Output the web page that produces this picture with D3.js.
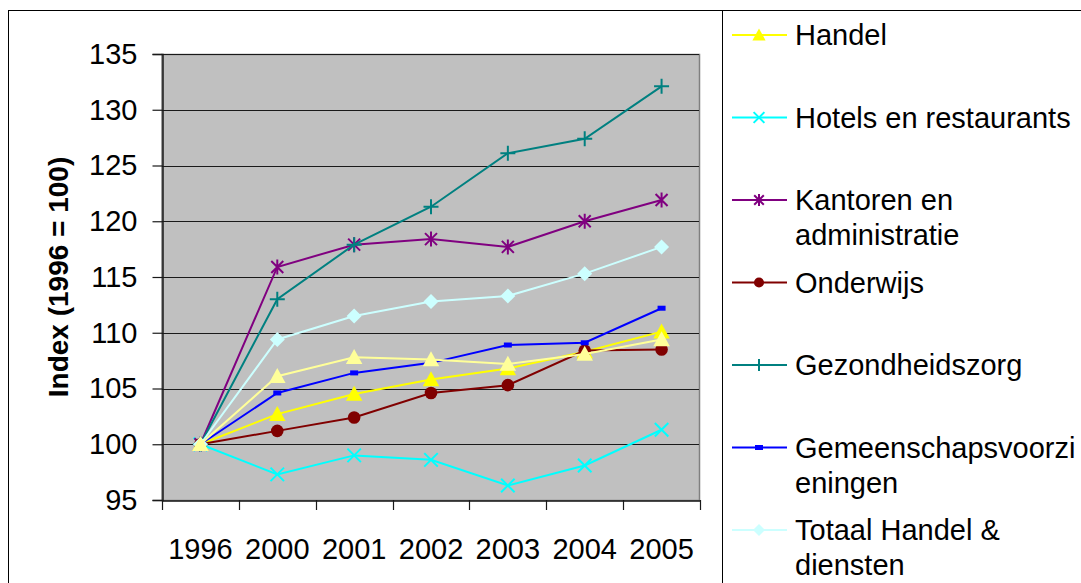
<!DOCTYPE html>
<html>
<head>
<meta charset="utf-8">
<script src="https://cdn.jsdelivr.net/npm/d3@7"></script>
<style>
  body { margin: 0; background: #fff; }
  svg { display: block; font-family: "Liberation Sans", Arial, sans-serif; }
</style>
</head>
<body>
<svg id="chart" width="1081" height="583"></svg>
<script>
var years = ["1996", "2000", "2001", "2002", "2003", "2004", "2005"];
var yTicks = [95, 100, 105, 110, 115, 120, 125, 130, 135];

var handel = [100, 102.7, 104.5, 105.8, 106.8, 108.3, 110.1];
var hotels = [100, 97.3, 99.0, 98.6, 96.3, 98.1, 101.3];
var kantoren = [100, 115.9, 117.9, 118.4, 117.7, 120.0, 121.9];
var onderwijs = [100, 101.2, 102.4, 104.6, 105.3, 108.4, 108.5];
var gezondheid = [100, 113.0, 117.9, 121.3, 126.1, 127.4, 132.1];
var gemeenschap = [100, 104.6, 106.4, 107.3, 108.9, 109.1, 112.2];
var totaal = [100, 109.4, 111.5, 112.8, 113.3, 115.3, 117.7];
var totaalDiensten = [100, 106.1, 107.8, 107.6, 107.2, 108.1, 109.4];

var seriesNames = [
  ["Handel"],
  ["Hotels en restaurants"],
  ["Kantoren en", "administratie"],
  ["Onderwijs"],
  ["Gezondheidszorg"],
  ["Gemeenschapsvoorzi", "eningen"],
  ["Totaal Handel &", "diensten"],
  ["Totaal diensten"]
];
var seriesValues = [handel, hotels, kantoren, onderwijs, gezondheid, gemeenschap, totaal, totaalDiensten];
var seriesColors = ["#ffff00", "#00ffff", "#800080", "#800000", "#008080", "#0000ff", "#ccffff", "#ffff99"];
var seriesMarkers = ["triangle", "cross", "star", "circle", "plus", "dash", "diamond", "triangle"];

var svg = d3.select("#chart");
var plotLeft = 162, plotRight = 700, plotTop = 54, plotBottom = 500;
var fontSize = 29;

var x = d3.scaleBand().domain(years).range([plotLeft, plotRight]).padding(0);
var y = d3.scaleLinear().domain([95, 135]).range([plotBottom, plotTop]);

// outer frame and legend frame
svg.append("rect").attr("x", 8.5).attr("y", 10.5).attr("width", 1100).attr("height", 600)
  .attr("fill", "none").attr("stroke", "#000");
svg.append("rect").attr("x", 722.5).attr("y", 10.5).attr("width", 400).attr("height", 600)
  .attr("fill", "none").attr("stroke", "#000");

// plot area
svg.append("rect").attr("x", plotLeft).attr("y", plotTop + 0.5).attr("width", plotRight - plotLeft - 0.5).attr("height", plotBottom - plotTop)
  .attr("fill", "#c0c0c0").attr("stroke", "#808080").attr("stroke-width", 1.5);

svg.append("g").selectAll("line").data(yTicks.slice(1)).enter().append("line")
  .attr("x1", plotLeft).attr("x2", plotRight - 1)
  .attr("y1", function(d) { return Math.round(y(d)) + 0.5; })
  .attr("y2", function(d) { return Math.round(y(d)) + 0.5; })
  .attr("stroke", "#1a1a1a").attr("stroke-width", 1.2);

// axes
var yAxis = d3.axisLeft(y).tickValues(yTicks).tickSize(10).tickPadding(14);
var gy = svg.append("g").attr("transform", "translate(" + (plotLeft + 0.5) + ",0)").call(yAxis);
gy.select(".domain").attr("stroke", "#1a1a1a").attr("stroke-width", 1.5);
gy.selectAll(".tick line").attr("stroke", "#1a1a1a").attr("stroke-width", 1.2);
gy.selectAll(".tick text").attr("font-size", fontSize).attr("font-family", "Liberation Sans, Arial").attr("fill", "#000")
  .attr("dx", "-1");

var xAxis = d3.axisBottom(x).tickSize(0).tickPadding(38);
var gx = svg.append("g").attr("transform", "translate(0," + (plotBottom + 0.5) + ")").call(xAxis);
gx.select(".domain").attr("stroke", "#1a1a1a").attr("stroke-width", 1.5);
gx.selectAll(".tick text").attr("font-size", fontSize).attr("font-family", "Liberation Sans, Arial").attr("fill", "#000");

var bounds = years.map(function(d) { return x(d); }).concat([plotRight]);
svg.append("g").selectAll("line").data(bounds).enter().append("line")
  .attr("x1", function(d) { return Math.round(d) + 0.5; })
  .attr("x2", function(d) { return Math.round(d) + 0.5; })
  .attr("y1", plotBottom).attr("y2", plotBottom + 10)
  .attr("stroke", "#1a1a1a").attr("stroke-width", 1.2);

svg.append("text")
  .attr("transform", "translate(68," + ((plotTop + plotBottom) / 2) + ") rotate(-90)")
  .attr("text-anchor", "middle")
  .attr("font-size", 28).attr("font-weight", "bold")
  .text("Index (1996 = 100)");

function drawMarker(g, type, color, s) {
  if (type == "triangle") {
    g.append("path").attr("d", "M0," + (-s * 0.55) + "L" + (s * 0.55) + "," + (s * 0.45) + "L" + (-s * 0.55) + "," + (s * 0.45) + "Z")
      .attr("fill", color);
  } else if (type == "cross") {
    var h = s * 0.45;
    g.append("path").attr("d", "M" + (-h) + "," + (-h) + "L" + h + "," + h + "M" + (-h) + "," + h + "L" + h + "," + (-h))
      .attr("stroke", color).attr("stroke-width", 2).attr("fill", "none");
  } else if (type == "star") {
    var h2 = s * 0.4;
    g.append("path").attr("d", "M" + (-h2) + "," + (-h2) + "L" + h2 + "," + h2 + "M" + (-h2) + "," + h2 + "L" + h2 + "," + (-h2) +
      "M0," + (-s * 0.5) + "L0," + (s * 0.5))
      .attr("stroke", color).attr("stroke-width", 2).attr("fill", "none");
  } else if (type == "circle") {
    g.append("circle").attr("r", s * 0.42).attr("fill", color);
  } else if (type == "plus") {
    var h3 = s * 0.5;
    g.append("path").attr("d", "M" + (-h3) + ",0L" + h3 + ",0M0," + (-h3) + "L0," + h3)
      .attr("stroke", color).attr("stroke-width", 2).attr("fill", "none");
  } else if (type == "dash") {
    g.append("rect").attr("x", -4).attr("y", -2.5).attr("width", 8).attr("height", 5).attr("fill", color);
  } else if (type == "diamond") {
    var h4 = s * 0.5;
    g.append("path").attr("d", "M0," + (-h4) + "L" + h4 + ",0L0," + h4 + "L" + (-h4) + ",0Z").attr("fill", color);
  }
}

var line = d3.line()
  .x(function(d, i) { return x(years[i]) + x.bandwidth() / 2; })
  .y(function(d) { return y(d); });

seriesValues.forEach(function(vals, k) {
  var g = svg.append("g");
  g.append("path").datum(vals).attr("d", line)
    .attr("fill", "none").attr("stroke", seriesColors[k]).attr("stroke-width", 2);
  vals.forEach(function(v, i) {
    var m = g.append("g").attr("transform", "translate(" + (x(years[i]) + x.bandwidth() / 2) + "," + y(v) + ")");
    drawMarker(m, seriesMarkers[k], seriesColors[k], 15);
  });
});

// legend (the frame is cropped at the bottom, so only entries that fit are drawn)
var legend = svg.append("g");
seriesNames.forEach(function(lines, k) {
  var ly = 35 + k * 82.5;
  if (ly > 560) return;
  legend.append("line").attr("x1", 732).attr("x2", 787).attr("y1", ly).attr("y2", ly)
    .attr("stroke", seriesColors[k]).attr("stroke-width", 2);
  var m = legend.append("g").attr("transform", "translate(759," + ly + ")");
  drawMarker(m, seriesMarkers[k], seriesColors[k], 12);
  lines.forEach(function(t, j) {
    legend.append("text").attr("x", 795).attr("y", ly + 10 + j * 35)
      .attr("font-size", fontSize).attr("fill", "#000").text(t);
  });
});
</script>
</body>
</html>
